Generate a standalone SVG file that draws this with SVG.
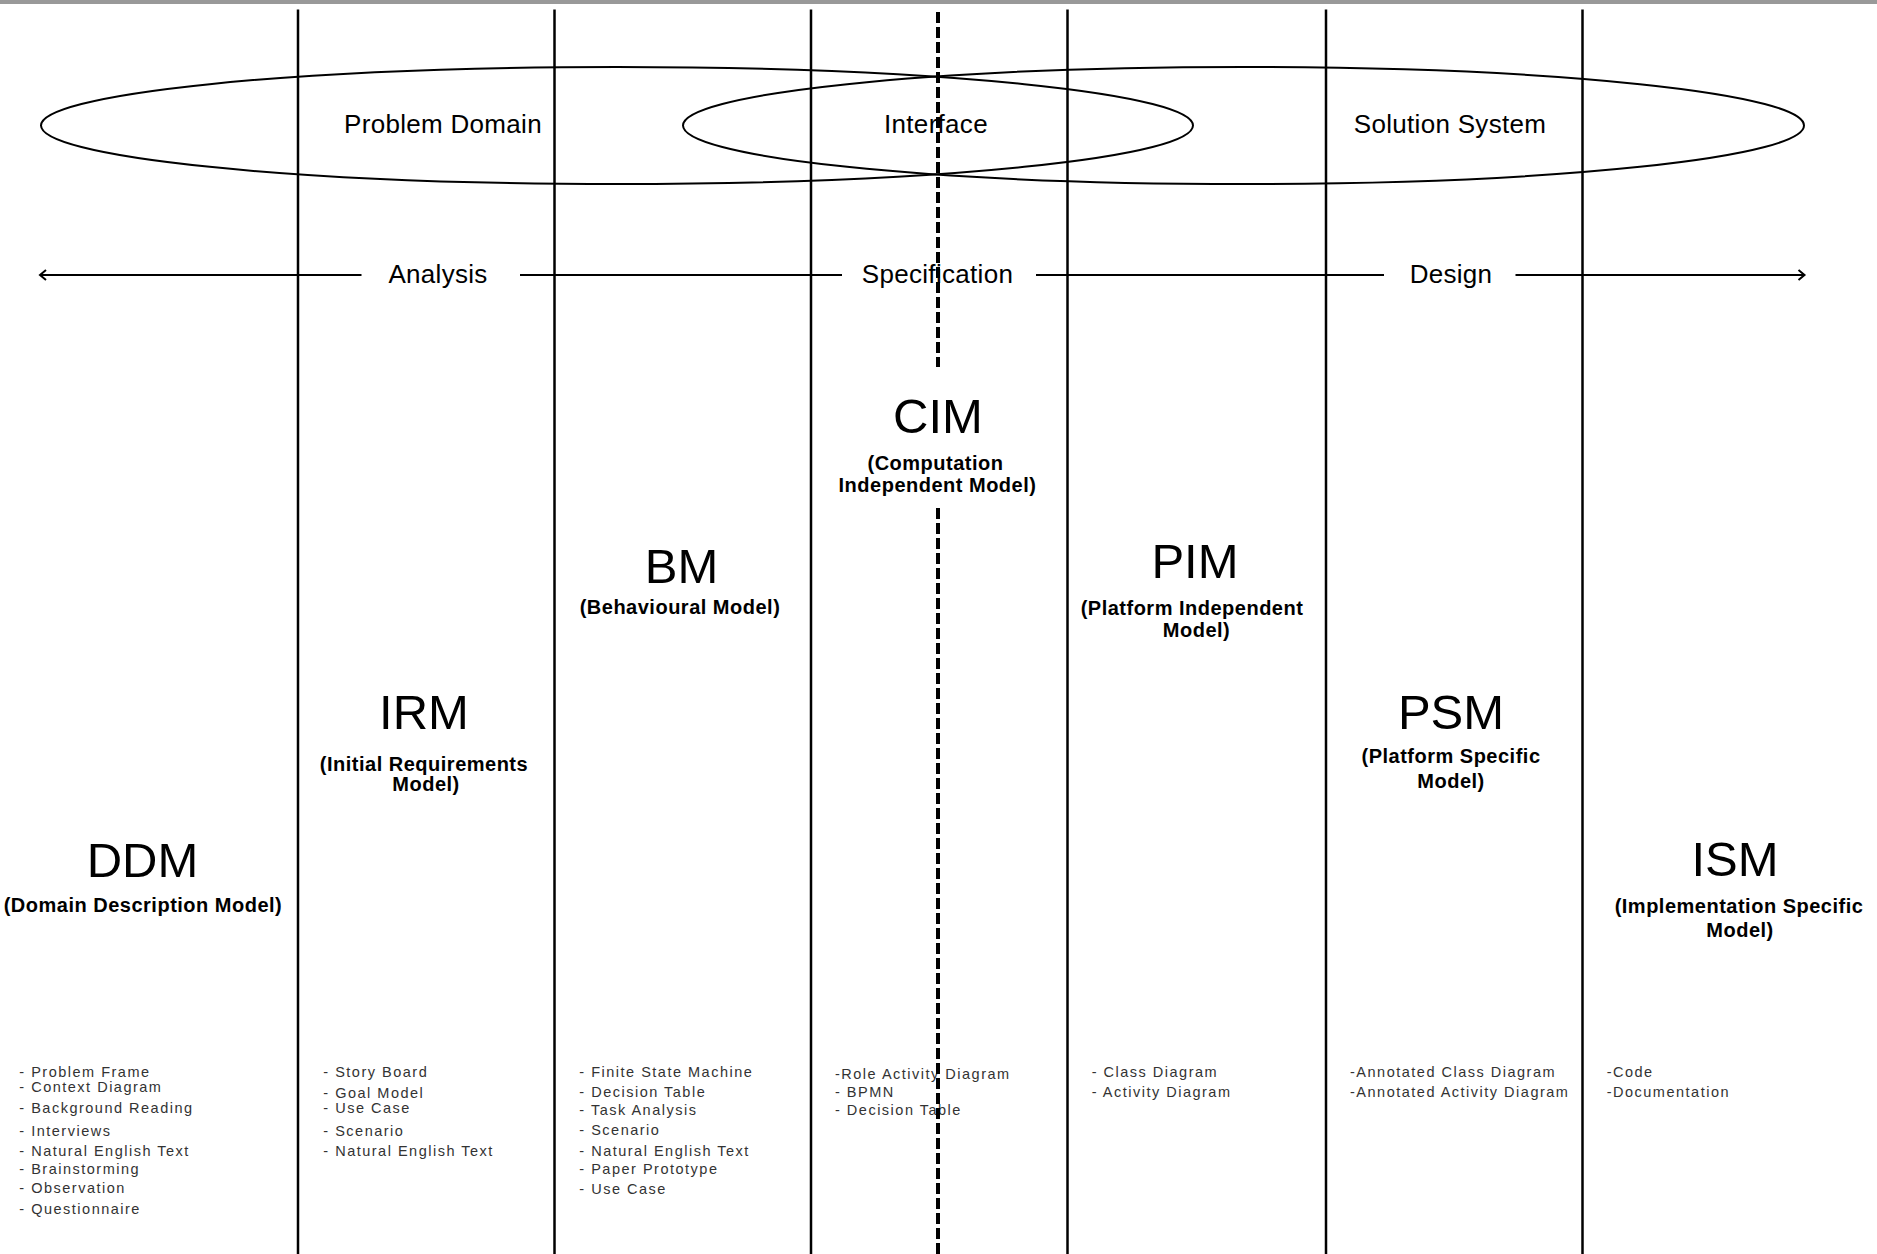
<svg xmlns="http://www.w3.org/2000/svg" width="1877" height="1254" viewBox="0 0 1877 1254">
<style>
  text { font-family: "Liberation Sans", Arial, sans-serif; fill: #000; }
  .area { font-size: 26px; letter-spacing: 0.3px; text-anchor: middle; }
  .title { font-size: 49px; text-anchor: middle; }
  .sub { font-size: 20px; font-weight: bold; letter-spacing: 0.5px; text-anchor: middle; }
  .item { font-size: 14.5px; letter-spacing: 1.5px; fill: #333; }
  .col { stroke: #000; stroke-width: 2.5; fill: none; }
  .ell { stroke: #000; stroke-width: 2; fill: none; }
  .axis { stroke: #000; stroke-width: 2; fill: none; }
  .dash { stroke: #000; stroke-width: 4; stroke-dasharray: 11 4; fill: none; }
</style>
<rect x="0" y="0" width="1877" height="4" fill="#999"/>
<rect x="0" y="4" width="1877" height="1250" fill="#fff"/>

<g id="columns">
  <line class="col" x1="298" y1="9.5" x2="298" y2="1254"/>
  <line class="col" x1="554.5" y1="9.5" x2="554.5" y2="1254"/>
  <line class="col" x1="811" y1="9.5" x2="811" y2="1254"/>
  <line class="col" x1="1067.5" y1="9.5" x2="1067.5" y2="1254"/>
  <line class="col" x1="1326" y1="9.5" x2="1326" y2="1254"/>
  <line class="col" x1="1582.5" y1="9.5" x2="1582.5" y2="1254"/>
</g>

<g id="domains">
  <ellipse class="ell" cx="617" cy="125.5" rx="576" ry="58.5"/>
  <ellipse class="ell" cx="1243.5" cy="125.5" rx="560.5" ry="58.5"/>
  <text class="area" x="443" y="133">Problem Domain</text>
  <text class="area" x="936" y="133">Interface</text>
  <text class="area" x="1450" y="133">Solution System</text>
</g>

<g id="connectors">
  <line class="axis" x1="41" y1="275" x2="361.5" y2="275"/>
  <line class="axis" x1="520" y1="275" x2="842" y2="275"/>
  <line class="axis" x1="1036" y1="275" x2="1384" y2="275"/>
  <line class="axis" x1="1515.5" y1="275" x2="1804" y2="275"/>
  <polyline class="axis" points="46,270 40,275 46,280"/>
  <polyline class="axis" points="1798.5,270 1804.5,275 1798.5,280"/>
</g>

<g id="phases">
  <text class="area" x="438" y="283">Analysis</text>
  <text class="area" x="937.5" y="283">Specification</text>
  <text class="area" x="1451" y="283">Design</text>
</g>

<g id="DDM">
  <text class="title" x="142.5" y="876.7">DDM</text>
  <text class="sub" x="143" y="911.7">(Domain Description Model)</text>
  <text class="item" x="19.3" y="1076.7">- Problem Frame</text>
  <text class="item" x="19.3" y="1092.3">- Context Diagram</text>
  <text class="item" x="19.3" y="1112.7">- Background Reading</text>
  <text class="item" x="19.3" y="1135.7">- Interviews</text>
  <text class="item" x="19.3" y="1156">- Natural English Text</text>
  <text class="item" x="19.3" y="1174.3">- Brainstorming</text>
  <text class="item" x="19.3" y="1193.3">- Observation</text>
  <text class="item" x="19.3" y="1214">- Questionnaire</text>
</g>

<g id="IRM">
  <text class="title" x="424" y="729.3">IRM</text>
  <text class="sub" x="424" y="770.7">(Initial Requirements</text>
  <text class="sub" x="426" y="791">Model)</text>
  <text class="item" x="323.3" y="1076.7">- Story Board</text>
  <text class="item" x="323.3" y="1097.7">- Goal Model</text>
  <text class="item" x="323.3" y="1113.3">- Use Case</text>
  <text class="item" x="323.3" y="1136">- Scenario</text>
  <text class="item" x="323.3" y="1156">- Natural English  Text</text>
</g>

<g id="BM">
  <text class="title" x="681.6" y="582.7">BM</text>
  <text class="sub" x="680" y="614">(Behavioural Model)</text>
  <text class="item" x="579.3" y="1076.7">- Finite State Machine</text>
  <text class="item" x="579.3" y="1096.7">- Decision Table</text>
  <text class="item" x="579.3" y="1115">- Task Analysis</text>
  <text class="item" x="579.3" y="1135">- Scenario</text>
  <text class="item" x="579.3" y="1156">- Natural English Text</text>
  <text class="item" x="579.3" y="1174">- Paper Prototype</text>
  <text class="item" x="579.3" y="1194">- Use Case</text>
</g>

<g id="CIM">
  <text class="title" x="938" y="432.7">CIM</text>
  <text class="sub" x="935.5" y="469.5">(Computation</text>
  <text class="sub" x="937.5" y="491.7">Independent Model)</text>
  <text class="item" x="835" y="1079">-Role Activity Diagram</text>
  <text class="item" x="835" y="1096.7">- BPMN</text>
  <text class="item" x="835" y="1115">- Decision Table</text>
</g>

<g id="PIM">
  <text class="title" x="1195" y="578.3">PIM</text>
  <text class="sub" x="1192" y="615">(Platform Independent</text>
  <text class="sub" x="1196.5" y="637.3">Model)</text>
  <text class="item" x="1091.7" y="1076.7">- Class Diagram</text>
  <text class="item" x="1091.7" y="1096.7">- Activity Diagram</text>
</g>

<g id="PSM">
  <text class="title" x="1451" y="729">PSM</text>
  <text class="sub" x="1451" y="763">(Platform Specific</text>
  <text class="sub" x="1451" y="788">Model)</text>
  <text class="item" x="1350" y="1076.7">-Annotated Class Diagram</text>
  <text class="item" x="1350" y="1096.7">-Annotated Activity Diagram</text>
</g>

<g id="ISM">
  <text class="title" x="1735" y="876">ISM</text>
  <text class="sub" x="1739" y="913">(Implementation Specific</text>
  <text class="sub" x="1740" y="936.7">Model)</text>
  <text class="item" x="1606.7" y="1077.3">-Code</text>
  <text class="item" x="1606.7" y="1097.3">-Documentation</text>
</g>

<g id="boundary">
  <line class="dash" x1="938" y1="12" x2="938" y2="367"/>
  <line class="dash" x1="938" y1="508" x2="938" y2="1254"/>
</g>
</svg>
